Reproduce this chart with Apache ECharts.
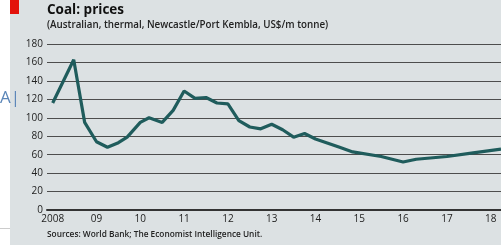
<!DOCTYPE html>
<html lang="en">
<head>
    <meta charset="UTF-8">
    <title>coal prices</title>
    <script src="https://cdn.jsdelivr.net/npm/echarts@6/dist/echarts.min.js"></script>
    <style>
        html, body { margin: 0; padding: 0; background: #fff; }
        #chart { width: 501px; height: 245px; }
    </style>
</head>
<body>
<div id="chart"></div>
<script>
    // data (year as decimal, US$/m tonne)
    var years = [2008.0, 2008.48, 2008.73, 2009.0, 2009.25, 2009.5, 2009.7, 2010.0, 2010.2, 2010.5,
        2010.75, 2011.0, 2011.25, 2011.5, 2011.75, 2012.0, 2012.25, 2012.5, 2012.75, 2013.0,
        2013.25, 2013.5, 2013.75, 2014.0, 2014.25, 2014.55, 2014.85, 2015.5, 2016.0, 2016.3,
        2017.0, 2017.6, 2018.235];
    var prices = [116, 163, 95, 74, 68, 73, 79, 95, 100, 95,
        108, 129, 121, 122, 116, 115, 97, 90, 88, 93,
        87, 79, 83, 77, 73, 68, 63, 58, 52, 55,
        58, 62, 66];
    var tickYears = [2008, 2009, 2010, 2011, 2012, 2013, 2014, 2015, 2016, 2017, 2018];
    var tickLabels = ['2008', '09', '10', '11', '12', '13', '14', '15', '16', '17', '18'];

    var points = [];
    for (var i = 0; i < years.length; i++) {
        points.push([years[i], prices[i]]);
    }

    var font = '"Open Sans", "Noto Sans", sans-serif';
    var chart = echarts.init(document.getElementById('chart'));
    chart.setOption({
        animation: false,
        backgroundColor: '#dce1e3',
        textStyle: {fontFamily: font},
        graphic: [
            {type: 'rect', shape: {x: 0, y: 0, width: 10, height: 245}, style: {fill: '#fff'}},
            {type: 'rect', shape: {x: 0, y: 228, width: 10, height: 1}, style: {fill: '#ccc'}},
            {type: 'text', left: 0, top: 90, style: {text: 'A|', fill: '#5b86b8', font: '17px ' + font}},
            {type: 'rect', shape: {x: 10, y: 0, width: 9, height: 14}, style: {fill: '#e3120b'}},
            {type: 'text', left: 47, top: 3, style: {text: 'Coal: prices', fill: '#111', font: 'bold 13.5px ' + font}},
            {type: 'text', left: 47, top: 20, style: {text: '(Australian, thermal, Newcastle/Port Kembla, US$/m tonne)', fill: '#222', font: '600 9.8px ' + font}},
            {type: 'text', left: 47, top: 231, style: {text: 'Sources: World Bank; The Economist Intelligence Unit.', fill: '#222', font: '600 8.3px ' + font}}
        ],
        grid: {left: 47, right: 0, top: 44, bottom: 35},
        xAxis: {
            type: 'value',
            min: 2007.87,
            max: 2018.235,
            axisLine: {show: true, onZero: false, lineStyle: {color: '#333', width: 2}},
            axisTick: {show: false},
            splitLine: {show: false},
            axisLabel: {
                customValues: tickYears,
                color: '#222',
                fontSize: 10,
                margin: 4,
                formatter: function (v) {
                    var k = tickYears.indexOf(Math.round(v));
                    return k >= 0 ? tickLabels[k] : '';
                }
            }
        },
        yAxis: {
            type: 'value',
            min: 0,
            max: 180,
            interval: 20,
            axisLine: {show: false},
            axisTick: {show: false},
            axisLabel: {color: '#222', fontSize: 10, margin: 4},
            splitLine: {lineStyle: {color: '#4d4d4d', width: 1}}
        },
        series: [{
            type: 'line',
            data: points,
            showSymbol: false,
            lineStyle: {color: '#1f5c5c', width: 3.2},
            itemStyle: {color: '#1f5c5c'}
        }]
    });
</script>
</body>
</html>
